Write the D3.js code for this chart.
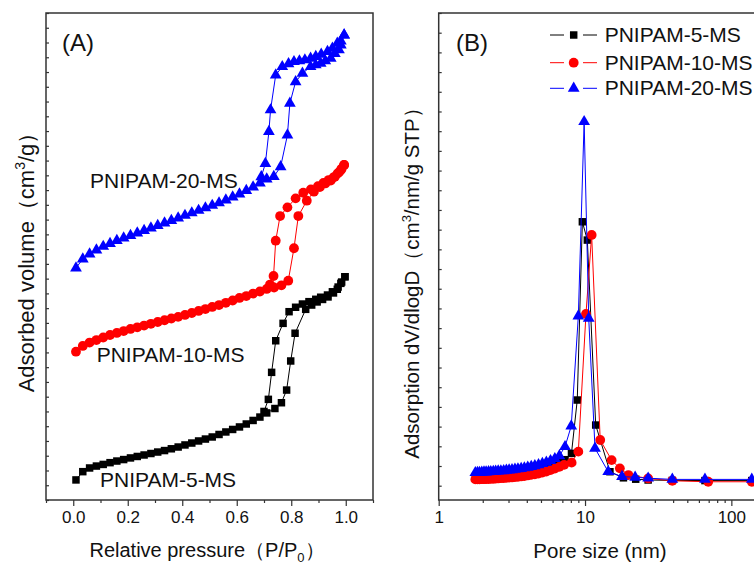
<!DOCTYPE html>
<html>
<head>
<meta charset="utf-8">
<script src="https://cdn.jsdelivr.net/npm/d3@7"></script>
<style>
  body { margin: 0; background: #fff; }
  svg { display: block; font-family: Arial, "Liberation Sans", sans-serif; }
</style>
</head>
<body>
<script>
// ---- (A) N2 isotherms: [P/P0, adsorbed volume (offset, a.u.)]
var ads5 = [[0.010,13.6],[0.035,19.2],[0.060,21.7],[0.085,23.0],[0.110,24.1],[0.135,25.3],[0.160,26.4],[0.185,27.4],[0.210,28.5],[0.235,29.5],[0.260,30.5],[0.285,31.5],[0.310,32.5],[0.335,33.5],[0.360,34.7],[0.385,35.9],[0.410,37.3],[0.435,38.6],[0.460,40.0],[0.485,41.3],[0.510,42.7],[0.535,44.4],[0.560,46.1],[0.585,47.8],[0.610,49.5],[0.635,51.5],[0.660,53.9],[0.685,56.2],[0.710,59.0],[0.740,62.0],[0.764,65.9],[0.783,74.5],[0.798,94.2],[0.814,113.0],[0.853,129.2],[0.875,132.1],[0.895,134.2],[0.915,135.9],[0.935,137.6],[0.955,140.3],[0.972,144.3],[0.985,147.7],[0.997,151.3]];
var des5 = [[0.997,151.3],[0.982,146.8],[0.969,142.8],[0.951,141.1],[0.933,138.9],[0.908,137.4],[0.890,136.0],[0.865,134.4],[0.841,132.8],[0.816,130.6],[0.792,127.6],[0.770,119.7],[0.743,107.9],[0.728,86.5],[0.716,68.2],[0.700,60.0]];
var ads10 = [[0.010,100.5],[0.035,104.4],[0.060,106.7],[0.085,108.4],[0.110,110.1],[0.135,111.8],[0.160,113.2],[0.185,114.5],[0.210,115.9],[0.235,117.0],[0.260,118.2],[0.285,119.4],[0.310,120.6],[0.335,121.8],[0.360,123.0],[0.385,124.1],[0.410,125.4],[0.435,126.7],[0.460,128.1],[0.485,129.4],[0.510,130.8],[0.535,132.1],[0.560,133.6],[0.585,135.2],[0.610,136.9],[0.635,138.2],[0.660,139.9],[0.685,141.3],[0.710,143.0],[0.737,144.0],[0.764,145.5],[0.789,148.6],[0.810,170.6],[0.826,192.4],[0.857,202.8],[0.883,208.9],[0.905,212.0],[0.925,214.5],[0.945,216.5],[0.960,219.0],[0.975,222.0],[0.985,224.5],[0.994,227.0]];
var des10 = [[0.994,227.0],[0.982,223.6],[0.970,221.3],[0.955,218.6],[0.937,216.8],[0.918,214.9],[0.898,212.7],[0.872,210.5],[0.844,208.2],[0.816,204.4],[0.786,198.3],[0.759,192.4],[0.743,175.7],[0.735,151.8],[0.722,146.0]];
var ads20 = [[0.010,157.2],[0.035,163.3],[0.060,166.7],[0.085,169.4],[0.110,171.8],[0.135,173.8],[0.160,175.8],[0.185,177.5],[0.210,179.2],[0.235,180.9],[0.260,182.6],[0.285,184.3],[0.310,186.0],[0.335,187.7],[0.360,189.4],[0.385,191.1],[0.410,192.8],[0.435,194.5],[0.460,196.2],[0.485,197.9],[0.510,199.6],[0.535,201.3],[0.560,203.3],[0.585,205.3],[0.610,207.3],[0.635,209.7],[0.660,212.1],[0.685,214.8],[0.710,217.5],[0.736,219.1],[0.761,225.8],[0.786,247.3],[0.795,268.8],[0.816,283.4],[0.841,289.1],[0.871,293.6],[0.890,294.8],[0.908,295.9],[0.925,297.5],[0.945,299.3],[0.960,302.5],[0.975,305.0],[0.982,308.3],[0.994,315.1]];
var des20 = [[0.994,315.1],[0.982,311.0],[0.969,309.5],[0.951,306.0],[0.933,303.8],[0.910,302.0],[0.890,300.5],[0.871,299.3],[0.850,298.2],[0.830,297.5],[0.810,297.0],[0.790,295.5],[0.767,293.6],[0.743,288.0],[0.724,264.3],[0.718,249.6],[0.705,228.0],[0.690,219.0]];

// ---- (B) pore size distribution: [pore size nm, dV/dlogD]
var psd5 = [[1.78,.046],[1.84,.046],[1.90,.047],[1.97,.047],[2.04,.048],[2.11,.048],[2.19,.049],[2.27,.050],[2.36,.051],[2.45,.052],[2.55,.053],[2.66,.054],[2.78,.055],[2.90,.056],[3.03,.058],[3.17,.059],[3.32,.061],[3.48,.063],[3.66,.065],[3.85,.068],[4.06,.071],[4.29,.074],[4.54,.078],[4.81,.082],[5.11,.087],[5.44,.093],[5.81,.100],[6.22,.108],[6.68,.118],[7.30,.132],[8.08,.164],[8.85,.435],[9.59,1.340],[10.37,1.247],[11.83,.308],[14.8,.071],[18.3,.040],[22.2,.033],[27.0,.029],[39.5,.027],[66.0,.026],[138,.026]];
var psd10 = [[1.78,.032],[1.84,.032],[1.90,.032],[1.97,.033],[2.04,.033],[2.11,.034],[2.19,.034],[2.27,.035],[2.36,.035],[2.45,.036],[2.55,.037],[2.66,.038],[2.78,.039],[2.90,.040],[3.03,.041],[3.17,.042],[3.32,.044],[3.48,.045],[3.66,.047],[3.85,.049],[4.06,.052],[4.29,.055],[4.54,.058],[4.81,.062],[5.11,.067],[5.44,.072],[5.81,.079],[6.22,.087],[6.68,.096],[7.20,.106],[8.10,.117],[9.00,.173],[10.15,.872],[11.10,1.273],[12.70,.232],[15.20,.130],[17.30,.088],[19.80,.054],[27.0,.037],[39.5,.025],[69.5,.020],[138,.020]];
var psd20 = [[1.78,.066],[1.84,.067],[1.90,.067],[1.97,.068],[2.04,.069],[2.11,.069],[2.19,.070],[2.27,.071],[2.36,.072],[2.45,.073],[2.55,.074],[2.66,.075],[2.78,.076],[2.90,.078],[3.03,.079],[3.17,.081],[3.32,.083],[3.48,.085],[3.66,.087],[3.85,.090],[4.06,.093],[4.29,.097],[4.54,.101],[4.81,.106],[5.11,.112],[5.44,.119],[5.81,.127],[6.22,.137],[6.68,.152],[7.30,.198],[8.05,.303],[9.00,.861],[9.86,1.848],[10.60,.850],[11.70,.190],[14.40,.071],[17.90,.046],[22.0,.043],[27.0,.038],[39.5,.032],[66.0,.032],[138,.032]];

var seriesNames = ['PNIPAM-5-MS', 'PNIPAM-10-MS', 'PNIPAM-20-MS'];
var seriesColors = ['#000000', '#ff0000', '#0000ff'];
var seriesShapes = ['square', 'circle', 'triangle'];

var xTicksA = [0, 0.2, 0.4, 0.6, 0.8, 1.0];
var xMinorA = [-0.1, 0.1, 0.3, 0.5, 0.7, 0.9, 1.1];
var xTicksB = [1, 10, 100];

var W = 754, H = 565;
var svg = d3.select('body').append('svg').attr('width', W).attr('height', H);

var xA = d3.scaleLinear().domain([-0.1, 1.1]).range([46, 373]);
var yA = d3.scaleLinear().domain([0, 330]).range([500, 13]);
var xB = d3.scaleLog().domain([1, 200]).range([438.7, 775.4]);
var yB = d3.scaleLinear().domain([-0.0726, 2.4]).range([500, 13]);

function marker(g, shape, x, y, color) {
  if (shape === 'circle') {
    g.append('circle').attr('cx', x).attr('cy', y).attr('r', 4.9).attr('fill', color);
  } else {
    var sym = shape === 'square' ? d3.symbolSquare : d3.symbolTriangle;
    var size = shape === 'square' ? 56 : 60;
    g.append('path').attr('d', d3.symbol().type(sym).size(size)())
      .attr('transform', 'translate(' + x + ',' + y + ')').attr('fill', color);
  }
}

function drawSeries(g, data, xs, ys, color, shape) {
  var line = d3.line().x(function (d) { return xs(d[0]); }).y(function (d) { return ys(d[1]); });
  g.append('path').datum(data).attr('d', line)
    .attr('fill', 'none').attr('stroke', color).attr('stroke-width', 1);
  data.forEach(function (d) { marker(g, shape, xs(d[0]), ys(d[1]), color); });
}

function frame(x0, y0, x1, y1) {
  svg.append('rect').attr('x', x0).attr('y', y0).attr('width', x1 - x0).attr('height', y1 - y0)
    .attr('fill', 'none').attr('stroke', '#333').attr('stroke-width', 1.5);
}

// ---------- panel A ----------
var gA = svg.append('g');
drawSeries(gA, ads5, xA, yA, seriesColors[0], seriesShapes[0]);
drawSeries(gA, des5, xA, yA, seriesColors[0], seriesShapes[0]);
drawSeries(gA, ads10, xA, yA, seriesColors[1], seriesShapes[1]);
drawSeries(gA, des10, xA, yA, seriesColors[1], seriesShapes[1]);
drawSeries(gA, ads20, xA, yA, seriesColors[2], seriesShapes[2]);
drawSeries(gA, des20, xA, yA, seriesColors[2], seriesShapes[2]);

frame(46, 13, 373, 500);

svg.append('g').attr('transform', 'translate(0,500)')
  .call(d3.axisBottom(xA).tickValues(xTicksA).tickFormat(d3.format('.1f')).tickSize(6).tickPadding(5));
svg.append('g').attr('transform', 'translate(0,500)')
  .call(d3.axisBottom(xA).tickValues(xMinorA).tickFormat('').tickSize(3));
svg.append('g').attr('transform', 'translate(46,0)')
  .call(d3.axisLeft(yA).ticks(33).tickFormat('').tickSize(-3));

// ---------- panel B ----------
var gB = svg.append('g');
drawSeries(gB, psd5, xB, yB, seriesColors[0], seriesShapes[0]);
drawSeries(gB, psd10, xB, yB, seriesColors[1], seriesShapes[1]);
drawSeries(gB, psd20, xB, yB, seriesColors[2], seriesShapes[2]);

frame(438.7, 13, 775.4, 500);

var minorB = [];
[1, 10, 100].forEach(function (dec) {
  for (var k = 2; k <= 9; k++) { if (dec * k <= 200) minorB.push(dec * k); }
});
svg.append('g').attr('transform', 'translate(0,500)')
  .call(d3.axisBottom(xB).tickValues(xTicksB).tickFormat(d3.format('d')).tickSize(6).tickPadding(5));
svg.append('g').attr('transform', 'translate(0,500)')
  .call(d3.axisBottom(xB).tickValues(minorB).tickFormat('').tickSize(3));
svg.append('g').attr('transform', 'translate(438.7,0)')
  .call(d3.axisLeft(yB).ticks(24).tickFormat('').tickSize(-3));

svg.selectAll('.domain').remove();
svg.selectAll('.tick line').attr('stroke', '#333').attr('stroke-width', 1.2);
svg.selectAll('.tick text').attr('font-size', 17).attr('fill', '#111')
  .attr('font-family', 'Arial, "Liberation Sans", sans-serif');

// ---------- texts ----------
function label(x, y, txt, size) {
  return svg.append('text').attr('x', x).attr('y', y).attr('font-size', size).attr('fill', '#111').text(txt);
}
label(62, 51, '(A)', 24);
label(456, 51, '(B)', 24);
label(90, 188, seriesNames[2], 21);
label(96.7, 362, seriesNames[1], 21);
label(100, 487, seriesNames[0], 21);

var tA = svg.append('text').attr('x', 207).attr('y', 557).attr('text-anchor', 'middle')
  .attr('font-size', 20).attr('fill', '#111');
tA.append('tspan').text('Relative pressure（P/P');
tA.append('tspan').attr('font-size', 13).attr('dy', 5).text('0');
tA.append('tspan').attr('dy', -5).text('）');

svg.append('text').attr('x', 600).attr('y', 558).attr('text-anchor', 'middle')
  .attr('font-size', 20.5).attr('fill', '#111').text('Pore size (nm)');

var yTA = svg.append('text').attr('transform', 'translate(34,257) rotate(-90)')
  .attr('text-anchor', 'middle').attr('font-size', 22).attr('fill', '#111');
yTA.append('tspan').text('Adsorbed volume（cm');
yTA.append('tspan').attr('font-size', 14).attr('dy', -9).text('3');
yTA.append('tspan').attr('dy', 9).text('/g）');

var yTB = svg.append('text').attr('transform', 'translate(419,278) rotate(-90)')
  .attr('text-anchor', 'middle').attr('font-size', 20.5).attr('fill', '#111');
yTB.append('tspan').text('Adsorption dV/dlogD（cm');
yTB.append('tspan').attr('font-size', 13).attr('dy', -8).text('3');
yTB.append('tspan').attr('dy', 8).text('/nm/g STP）');

// ---------- legend ----------
var legY = [35, 62.7, 88.3];
seriesNames.forEach(function (name, i) {
  var g = svg.append('g');
  g.append('line').attr('x1', 550).attr('x2', 564).attr('y1', legY[i]).attr('y2', legY[i])
    .attr('stroke', seriesColors[i]).attr('stroke-width', 1);
  g.append('line').attr('x1', 583).attr('x2', 597).attr('y1', legY[i]).attr('y2', legY[i])
    .attr('stroke', seriesColors[i]).attr('stroke-width', 1);
  marker(g, seriesShapes[i], 573.7, legY[i], seriesColors[i]);
  g.append('text').attr('x', 604.7).attr('y', legY[i] + 7).attr('font-size', 21)
    .attr('fill', '#111').text(name);
});
</script>
</body>
</html>
